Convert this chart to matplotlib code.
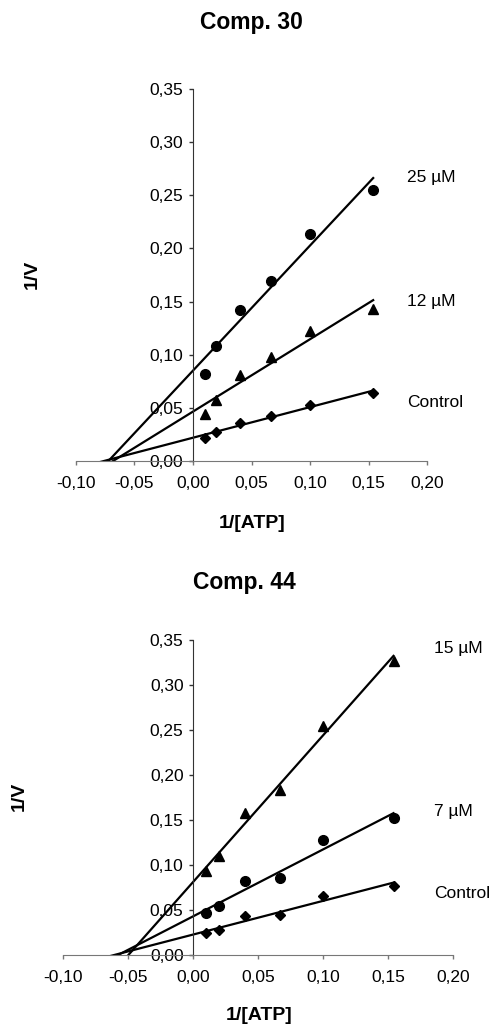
import numpy as np
import matplotlib
matplotlib.use("Agg")
import matplotlib.pyplot as plt
from matplotlib.ticker import FuncFormatter, MultipleLocator

plt.rcParams['font.family'] = ['Liberation Sans', 'DejaVu Sans']

# 1/[ATP] values (same for every series)
inv_atp = [0.010, 0.020, 0.040, 0.0667, 0.100, 0.154]

# Comp. 30
c30_names = ['25 \u00b5M', '12 \u00b5M', 'Control']
c30_25 = [0.082, 0.108, 0.142, 0.169, 0.214, 0.255]
c30_12 = [0.044, 0.057, 0.081, 0.098, 0.122, 0.143]
c30_ctrl = [0.022, 0.027, 0.036, 0.042, 0.053, 0.064]

# Comp. 44
c44_names = ['15 \u00b5M', '7 \u00b5M', 'Control']
c44_15 = [0.093, 0.110, 0.158, 0.183, 0.254, 0.327]
c44_7 = [0.047, 0.054, 0.082, 0.086, 0.128, 0.152]
c44_ctrl = [0.024, 0.028, 0.043, 0.045, 0.066, 0.077]

xlim = (-0.10, 0.20)
ylim = (0.0, 0.35)

fig = plt.figure(figsize=(4.92, 10.30), dpi=100)

def comma(v, pos):
    return ('%.2f' % v).replace('.', ',')

def panel(rect, series, markers, msizes, names, label_y, label_x):
    ax = fig.add_axes(rect)
    x = np.array(inv_atp)
    for ys, m, ms in zip(series, markers, msizes):
        ys = np.array(ys)
        ax.plot(x, ys, linestyle='none', marker=m, color='black', markersize=ms)
        a, b = np.polyfit(x, ys, 1)
        xs = np.array([xlim[0], x.max()])
        ax.plot(xs, a * xs + b, color='black', lw=1.6)
    for name, ly in zip(names, label_y):
        ax.text(label_x, ly, name, fontsize=12.5, va='center', ha='left', clip_on=False)
    ax.set_xlim(*xlim)
    ax.set_ylim(*ylim)
    ax.spines['top'].set_visible(False)
    ax.spines['right'].set_visible(False)
    ax.spines['left'].set_position(('data', 0))
    ax.spines['left'].set_color('#333333')
    ax.spines['bottom'].set_color('#777777')
    ax.xaxis.set_major_locator(MultipleLocator(0.05))
    ax.yaxis.set_major_locator(MultipleLocator(0.05))
    ax.xaxis.set_major_formatter(FuncFormatter(comma))
    ax.yaxis.set_major_formatter(FuncFormatter(comma))
    ax.tick_params(axis='both', labelsize=12.5, length=3, width=1, direction='out')
    ax.tick_params(axis='x', colors='#777777', labelcolor='black', pad=8)
    ax.tick_params(axis='y', colors='#333333', labelcolor='black', pad=4)
    return ax

ax1 = panel([76 / 492, 1 - 461 / 1030, 351 / 492, 372 / 1030],
            [c30_25, c30_12, c30_ctrl], ['o', '^', 'D'], [7, 7, 5.5],
            c30_names, [0.2665, 0.1505, 0.0546], 0.183)
ax2 = panel([63.3 / 492, 1 - 955 / 1030, 390 / 492, 315 / 1030],
            [c44_15, c44_7, c44_ctrl], ['^', 'o', 'D'], [7, 7, 5.5],
            c44_names, [0.341, 0.159, 0.0685], 0.185)

fig.text(251.7 / 492, 1 - 23 / 1030, 'Comp. 30', fontsize=16.5, fontweight='bold', ha='center', va='center')
fig.text(244 / 492, 1 - 582 / 1030, 'Comp. 44', fontsize=16.5, fontweight='bold', ha='center', va='center')
fig.text(252 / 492, 1 - 523 / 1030, '1/[ATP]', fontsize=14, fontweight='bold', ha='center', va='center')
fig.text(259 / 492, 1 - 1016 / 1030, '1/[ATP]', fontsize=14, fontweight='bold', ha='center', va='center')
fig.text(32 / 492, 1 - 274 / 1030, '1/V', fontsize=14, fontweight='bold', ha='center', va='center', rotation=90)
fig.text(19 / 492, 1 - 796 / 1030, '1/V', fontsize=14, fontweight='bold', ha='center', va='center', rotation=90)

fig.savefig('out.png', dpi=100)
